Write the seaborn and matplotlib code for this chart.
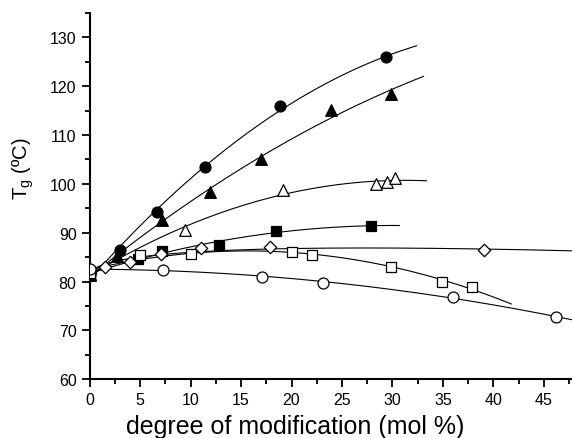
import numpy as np
import pandas as pd
import seaborn as sns
import matplotlib.pyplot as plt
from matplotlib.ticker import MultipleLocator

# degree of modification (mol %) and Tg (C) for each series
x_fcirc = [0, 3.0, 6.65, 11.4, 18.9, 29.4]
y_fcirc = [81.3, 86.5, 94.2, 103.5, 115.9, 125.9]

x_ftri = [0, 2.7, 7.2, 11.9, 17.0, 23.9, 29.9]
y_ftri = [81.3, 85.3, 92.6, 98.3, 105.1, 115.2, 118.5]

x_otri = [0, 9.4, 19.2, 28.4, 29.5, 30.3]
y_otri = [81.5, 90.5, 98.7, 100.0, 100.3, 101.3]

x_fsq = [0, 4.8, 7.2, 12.8, 18.5, 27.9]
y_fsq = [81.5, 84.6, 86.3, 87.5, 90.4, 91.4]

x_odia = [0, 1.5, 4.0, 7.05, 11.0, 17.9, 39.1]
y_odia = [81.8, 82.9, 84.0, 85.6, 86.8, 87.0, 86.4]

x_osq = [0, 5.0, 10.0, 20.0, 22.0, 29.9, 34.9, 37.9]
y_osq = [81.8, 85.5, 85.6, 86.0, 85.5, 82.9, 79.9, 78.9]

x_ocirc = [0, 7.25, 17.1, 23.1, 36.0, 46.2]
y_ocirc = [82.5, 82.4, 81.0, 79.8, 76.9, 72.7]

# end of fitted curve, and whether the quadratic fit is done on sqrt(x)
fit_end = [32.4, 33.1, 33.4, 30.7, 48.0, 41.8, 48.0]
fit_sqrt = [False, False, False, False, True, False, False]

series = [
    (x_fcirc, y_fcirc, 'o', 'black', 62),
    (x_ftri, y_ftri, '^', 'black', 70),
    (x_otri, y_otri, '^', 'white', 70),
    (x_fsq, y_fsq, 's', 'black', 45),
    (x_odia, y_odia, 'D', 'white', 40),
    (x_osq, y_osq, 's', 'white', 45),
    (x_ocirc, y_ocirc, 'o', 'white', 62),
]

sns.set_style('ticks', {'axes.edgecolor': 'black', 'text.color': 'black',
                        'axes.labelcolor': 'black', 'xtick.color': 'black',
                        'ytick.color': 'black'})
plt.rcParams['font.family'] = ['Liberation Sans', 'DejaVu Sans']

fig = plt.figure(figsize=(5.72, 4.39), dpi=100)
ax = fig.add_axes([0.157, 0.134, 0.843, 0.834])

for i, (xs, ys, mk, fc, sz) in enumerate(series):
    tr = np.sqrt if fit_sqrt[i] else (lambda v: np.asarray(v))
    coef = np.polyfit(tr(np.array(xs)), ys, 2)
    xf = np.linspace(0, fit_end[i], 200)
    fit = pd.DataFrame({'x': xf, 'y': np.polyval(coef, tr(xf))})
    sns.lineplot(data=fit, x='x', y='y', color='black', linewidth=0.8, ax=ax)
    pts = pd.DataFrame({'x': xs, 'y': ys})
    sns.scatterplot(data=pts, x='x', y='y', marker=mk, s=sz, facecolor=fc,
                    edgecolor='black', linewidth=0.9, ax=ax, zorder=3)

ax.set_xlim(0, 47.8)
ax.set_ylim(60, 135)
ax.xaxis.set_major_locator(MultipleLocator(5))
ax.xaxis.set_minor_locator(MultipleLocator(2.5))
ax.yaxis.set_major_locator(MultipleLocator(10))
ax.yaxis.set_minor_locator(MultipleLocator(5))
ax.tick_params(which='major', length=6, width=1.3, labelsize=11.5, direction='out')
ax.tick_params(which='minor', length=3.5, width=1.3, direction='out')
for s in ['left', 'bottom']:
    ax.spines[s].set_linewidth(1.5)
sns.despine(ax=ax)

ax.set_xlabel('degree of modification (mol %)', fontsize=18)
ax.set_ylabel('T$_\\mathregular{g}$ (ºC)', fontsize=14.5)
ax.xaxis.set_label_coords(0.425, -0.095)
ax.yaxis.set_label_coords(-0.112, 0.577)

fig.savefig('out.png', dpi=100)
